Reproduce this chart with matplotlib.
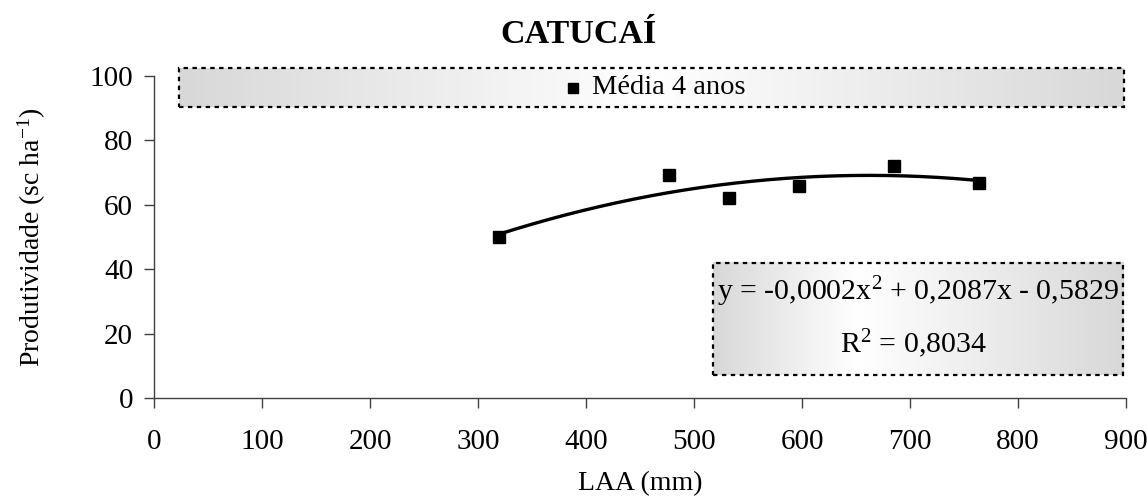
import numpy as np
import matplotlib
matplotlib.use("Agg")
import matplotlib.pyplot as plt
from matplotlib.colors import LinearSegmentedColormap
from matplotlib.patches import Rectangle

# Data
laa = [319, 477, 532, 597, 685, 764]
prod = [50.0, 69.3, 62.2, 65.8, 72.1, 66.8]
x_ticks = [0, 100, 200, 300, 400, 500, 600, 700, 800, 900]
y_ticks = [0, 20, 40, 60, 80, 100]
title = "CATUCAÍ"
legend_label = "Média 4 anos"
eq_line1 = "y = -0,0002x$^2$ + 0,2087x - 0,5829"
eq_line2 = "R$^2$ = 0,8034"

plt.rcParams["font.family"] = "Liberation Serif"
plt.rcParams["mathtext.fontset"] = "custom"
plt.rcParams["mathtext.rm"] = "Liberation Serif"
plt.rcParams["mathtext.it"] = "Liberation Serif:italic"
plt.rcParams["mathtext.bf"] = "Liberation Serif:bold"
spine_c = "#404040"

fig = plt.figure(figsize=(11.47, 4.99), dpi=100)
ax = fig.add_axes([0.1343, 0.2024, 0.8474, 0.6453])

# polynomial trend line (2nd order) fitted to the data
coef = np.polyfit(laa, prod, 2)
xs = np.linspace(min(laa), max(laa), 200)
ax.plot(xs, np.polyval(coef, xs), color="black", lw=2.4, zorder=3)
ax.plot(laa, prod, ls="none", marker="s", ms=8, color="black", zorder=4)

ax.set_xlim(0, 900)
ax.set_ylim(0, 100)
ax.set_xticks(x_ticks)
ax.set_yticks(y_ticks)
ax.tick_params(labelsize=21, direction="out", length=7, width=1, color=spine_c)
ax.tick_params(axis="x", pad=15)
ax.tick_params(axis="y", pad=8)
for s in ["top", "right"]:
    ax.spines[s].set_visible(False)
for s in ["left", "bottom"]:
    ax.spines[s].set_color(spine_c)
    ax.spines[s].set_linewidth(1)

ax.set_xlabel("LAA (mm)", fontsize=20, labelpad=12)
fig.text(0.028, 0.525, "Produtividade (sc ha$^{-1}$)", fontsize=20,
         rotation=90, ha="center", va="center")
fig.text(0.504, 0.93, title, fontsize=24.5, fontweight="bold",
         ha="center", va="center")


def grad_box(x0, x1, y0, y1, white_at):
    cmap = LinearSegmentedColormap.from_list(
        "g", [(0, "#d8d8d8"), (white_at, "#ffffff"), (1, "#d8d8d8")])
    g = np.linspace(0, 1, 256).reshape(1, -1)
    ax.imshow(g, extent=[x0, x1, y0, y1], transform=ax.transAxes,
              aspect="auto", cmap=cmap, zorder=1, clip_on=False)
    ax.add_patch(Rectangle((x0, y0), x1 - x0, y1 - y0, transform=ax.transAxes,
                           fill=False, ec="black", lw=1.6, ls=(0, (2, 2)),
                           zorder=2, clip_on=False))


# legend box
grad_box(0.026, 0.998, 0.904, 1.025, 0.5)
ax.plot([0.431], [0.963], marker="s", ms=7, color="black",
        transform=ax.transAxes, clip_on=False, zorder=3)
ax.text(0.451, 0.963, legend_label, fontsize=20.5, ha="left", va="center",
        transform=ax.transAxes)

# equation box
grad_box(0.575, 0.997, 0.071, 0.419, 0.35)
ax.text(0.786, 0.33, eq_line1, fontsize=21.5, ha="center", va="center",
        transform=ax.transAxes)
ax.text(0.781, 0.168, eq_line2, fontsize=21.5, ha="center", va="center",
        transform=ax.transAxes)

ax.set_aspect("auto")
fig.savefig("out.png", dpi=100)
